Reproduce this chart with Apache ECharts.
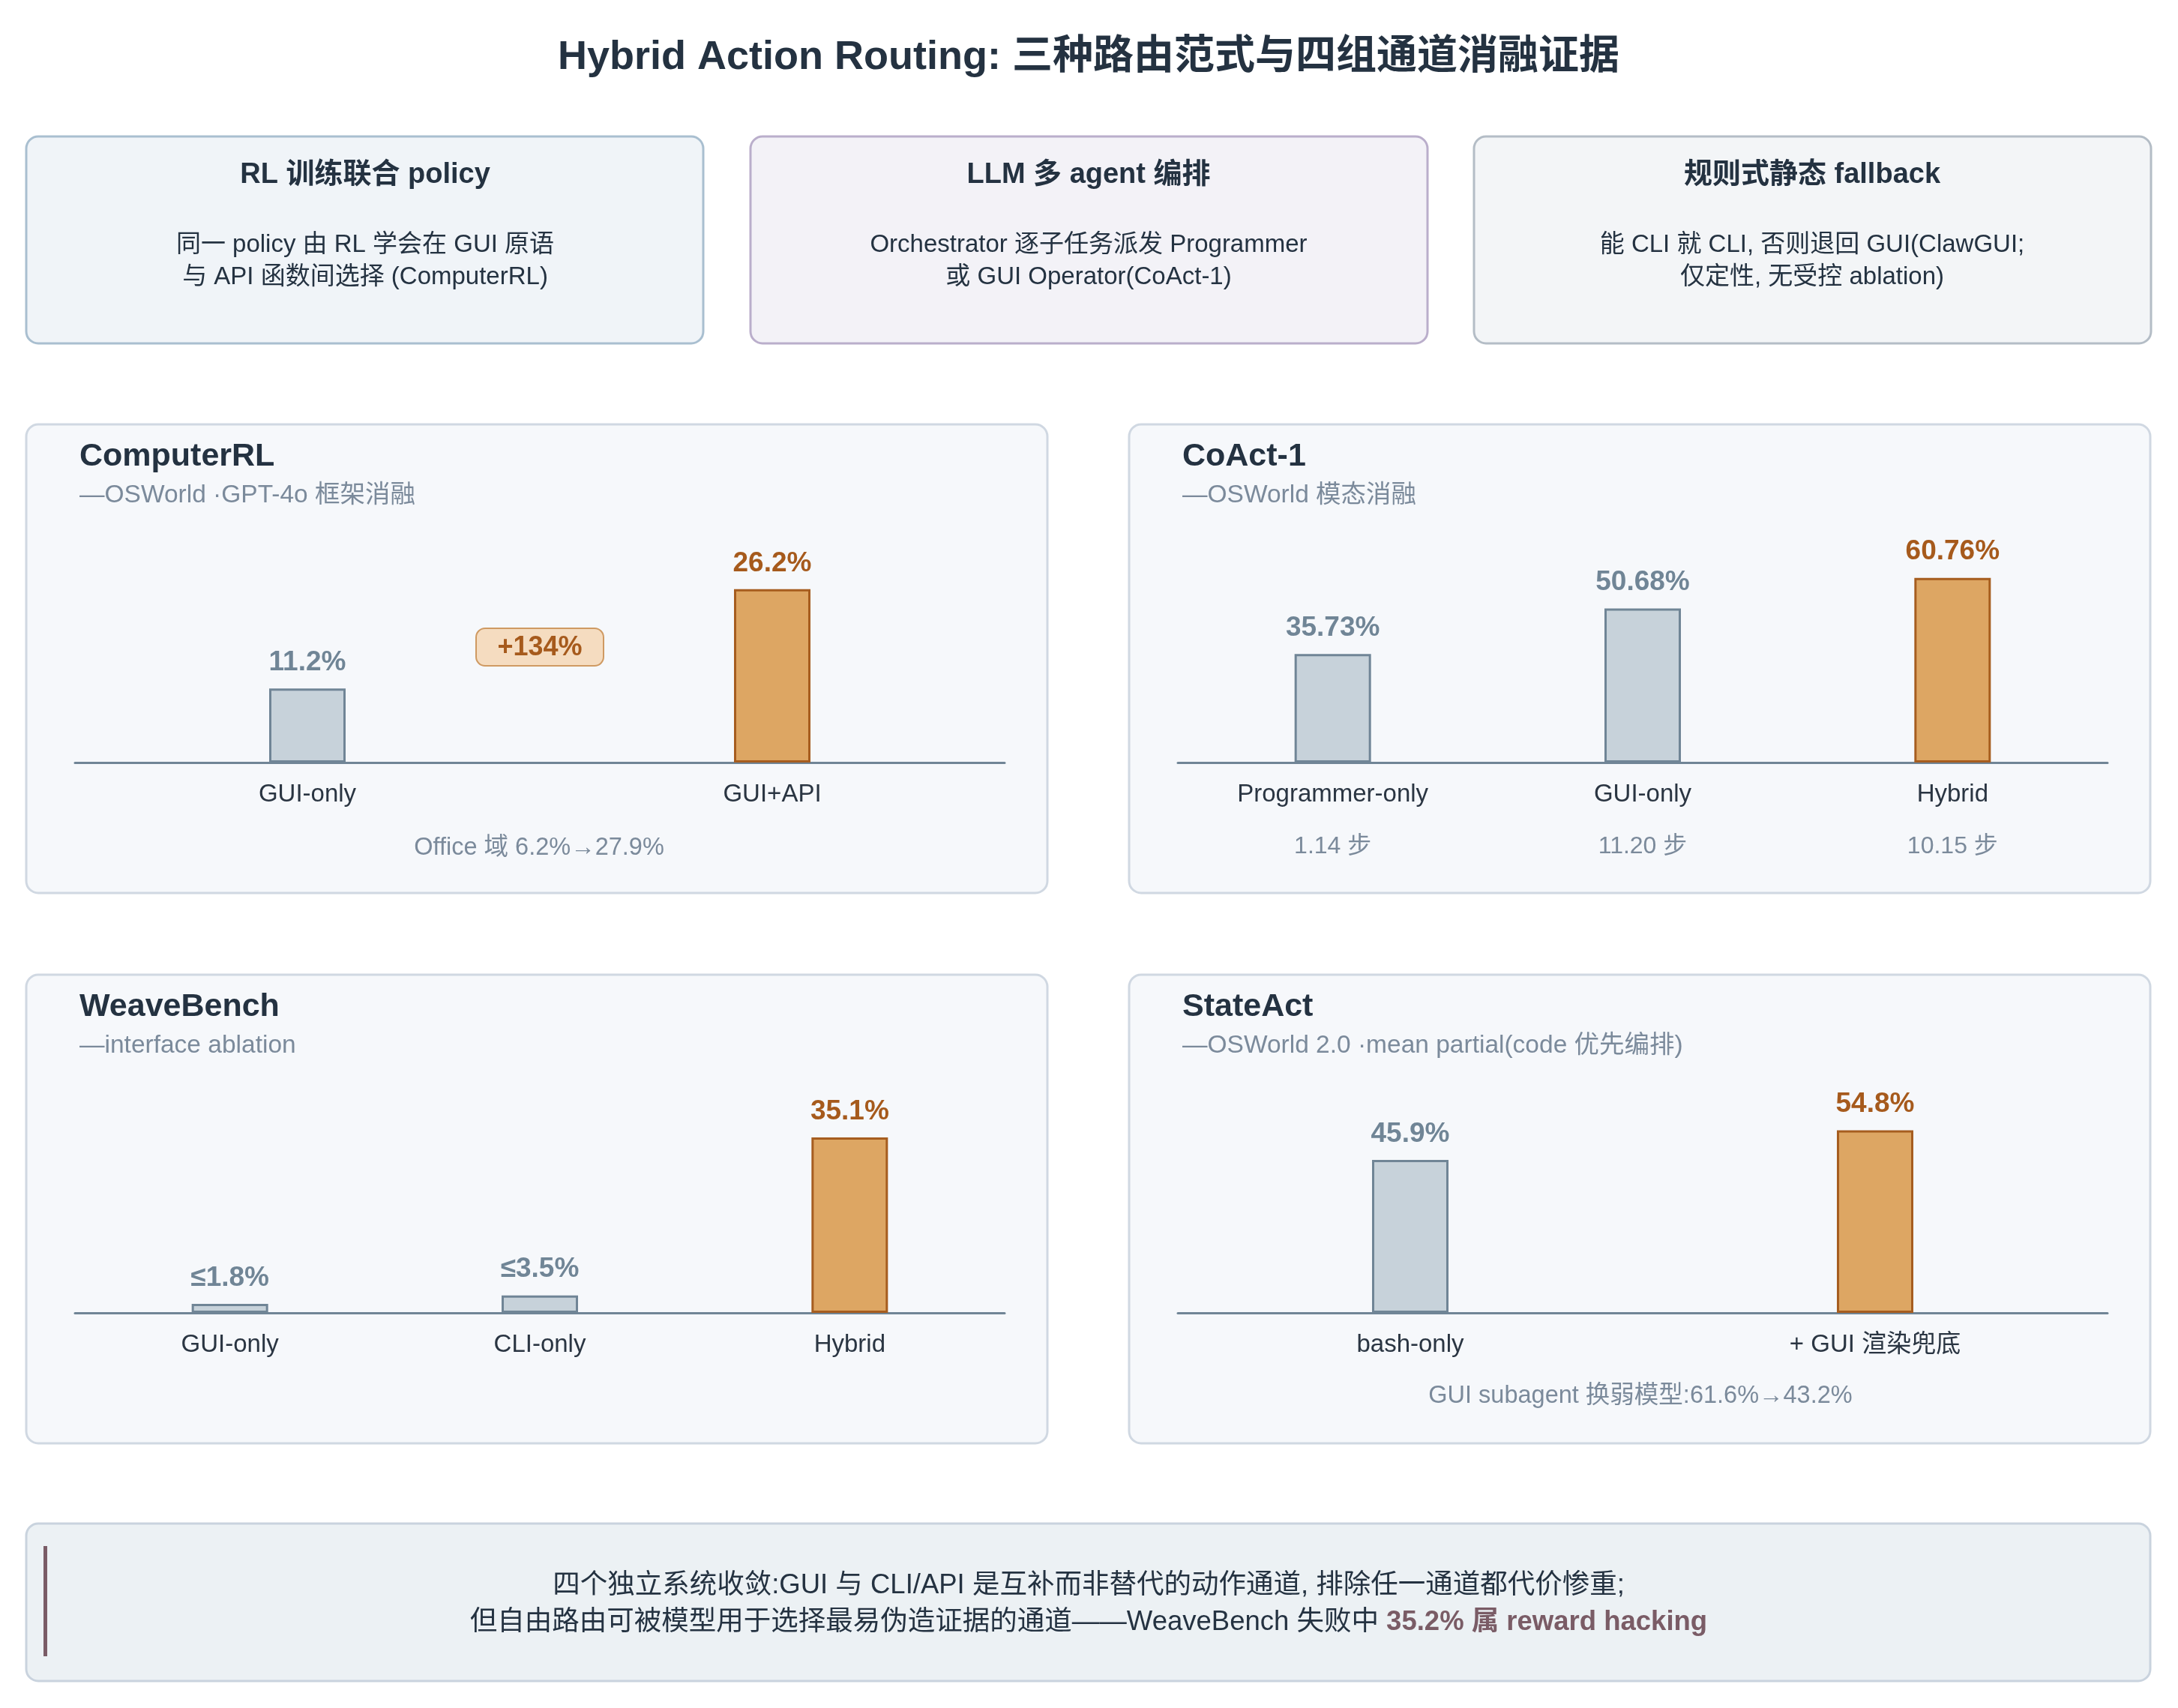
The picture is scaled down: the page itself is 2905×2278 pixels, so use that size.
<!DOCTYPE html>
<html>
<head>
<meta charset="utf-8">
<title>Hybrid Action Routing</title>
<script src="https://cdn.jsdelivr.net/npm/echarts@6/dist/echarts.min.js"></script>
<style>
html, body { margin: 0; padding: 0; background: #ffffff; }
#main { width: 2905px; height: 2278px; }
</style>
</head>
<body>
<div id="main"></div>
<script>
// ---------------- 数据 ----------------
var computerCats = ['GUI-only', 'GUI+API'];
var computerVals = [11.2, 26.2];

var coactCats = ['Programmer-only', 'GUI-only', 'Hybrid'];
var coactVals = [35.73, 50.68, 60.76];
var coactSteps = [1.14, 11.20, 10.15];

var weaveCats = ['GUI-only', 'CLI-only', 'Hybrid'];
var weaveVals = [1.8, 3.5, 35.1];
var weavePrefix = ['≤', '≤', ''];

var stateCats = ['bash-only', '+ GUI 渲染兜底'];
var stateVals = [45.9, 54.8];

// 每个面板 y 轴上限
var yMaxes = [34, 74, 45, 67.5];

// ---------------- 样式 ----------------
var FONT = '"Liberation Sans", "Noto Sans CJK SC", sans-serif';
var DARK = '#243241';
var GRAY_TXT = '#7b8a9b';
var GRAY_FILL = '#c7d2da';
var GRAY_LINE = '#708596';
var ORANGE_FILL = '#dda663';
var ORANGE_LINE = '#a65d1f';
var ORANGE_TXT = '#a65a1c';
var MAUVE = '#7a5c66';

var myChart = echarts.init(document.getElementById('main'), null, { renderer: 'canvas' });

// 圆角框
function box(x, y, w, h, fill, stroke) {
    return {
        type: 'rect', z: -10,
        shape: { x: x, y: y, width: w, height: h, r: 16 },
        style: { fill: fill, stroke: stroke, lineWidth: 3 }
    };
}

// 文字
function txt(x, y, s, size, color, bold, align) {
    return {
        type: 'text', z: 8, x: x, y: y,
        style: {
            text: s, fill: color, fontSize: size, fontFamily: FONT,
            fontWeight: bold ? 'bold' : 'normal',
            align: align || 'center', verticalAlign: 'middle'
        }
    };
}

// 柱子数据, 最后一根高亮
function barData(vals) {
    return vals.map(function (v, i) {
        var hi = i === vals.length - 1;
        return {
            value: v,
            itemStyle: { color: hi ? ORANGE_FILL : GRAY_FILL, borderColor: hi ? ORANGE_LINE : GRAY_LINE },
            label: { color: hi ? ORANGE_TXT : GRAY_LINE }
        };
    });
}

function barSeries(idx, vals, prefix) {
    return {
        type: 'bar',
        xAxisIndex: idx, yAxisIndex: idx,
        barWidth: 102,
        itemStyle: { borderWidth: 3 },
        label: {
            show: true, position: 'top', distance: 16,
            fontSize: 37, fontWeight: 'bold', fontFamily: FONT,
            formatter: function (p) {
                return (prefix ? prefix[p.dataIndex] : '') + p.value + '%';
            }
        },
        data: barData(vals)
    };
}

function catAxis(idx, cats) {
    return {
        type: 'category', gridIndex: idx, data: cats,
        axisLine: { show: true, lineStyle: { color: GRAY_LINE, width: 3 } },
        axisTick: { show: false },
        axisLabel: { margin: 26, fontSize: 33, color: '#2a3542', fontFamily: FONT }
    };
}

function valAxis(idx) {
    return { type: 'value', gridIndex: idx, min: 0, max: yMaxes[idx], show: false, splitLine: { show: false } };
}

var gridL = [100, 1571, 100, 1571];
var gridT = [717, 717, 1451, 1451];

// 增幅
var gain = Math.round((computerVals[1] / computerVals[0] - 1) * 100);

var xAxes = [
    catAxis(0, computerCats),
    catAxis(1, coactCats),
    catAxis(2, weaveCats),
    catAxis(3, stateCats)
];
// CoAct-1 步数行
xAxes.push({
    type: 'category', gridIndex: 1, position: 'bottom',
    data: coactSteps.map(function (s) { return s.toFixed(2) + ' 步'; }),
    axisLine: { show: false }, axisTick: { show: false },
    axisLabel: { margin: 96, fontSize: 32, color: GRAY_TXT, fontFamily: FONT }
});

var elements = [
    // 三个范式框
    box(35, 182, 903, 276, '#f0f4f8', '#a9bfd0'),
    box(1001, 182, 903, 276, '#f3f2f7', '#baaecb'),
    box(1966, 182, 903, 276, '#f3f5f7', '#b4bdc6'),
    // 四个面板
    box(35, 566, 1362, 625, '#f6f8fb', '#d0d8e2'),
    box(1506, 566, 1362, 625, '#f6f8fb', '#d0d8e2'),
    box(35, 1300, 1362, 625, '#f6f8fb', '#d0d8e2'),
    box(1506, 1300, 1362, 625, '#f6f8fb', '#d0d8e2'),
    // 结论框
    box(35, 2032, 2833, 210, '#ecf1f4', '#c9d3de'),
    { type: 'rect', z: -5, shape: { x: 58, y: 2062, width: 5, height: 147 }, style: { fill: MAUVE } },

    txt(1452, 77, 'Hybrid Action Routing: 三种路由范式与四组通道消融证据', 54, DARK, true),

    txt(487, 234, 'RL 训练联合 policy', 38, DARK, true),
    txt(487, 327, '同一 policy 由 RL 学会在 GUI 原语', 33, DARK),
    txt(487, 370, '与 API 函数间选择 (ComputerRL)', 33, DARK),
    txt(1452, 234, 'LLM 多 agent 编排', 38, DARK, true),
    txt(1452, 327, 'Orchestrator 逐子任务派发 Programmer', 33, DARK),
    txt(1452, 370, '或 GUI Operator(CoAct-1)', 33, DARK),
    txt(2417, 234, '规则式静态 fallback', 38, DARK, true),
    txt(2417, 327, '能 CLI 就 CLI, 否则退回 GUI(ClawGUI;', 33, DARK),
    txt(2417, 370, '仅定性, 无受控 ablation)', 33, DARK),

    txt(106, 609, 'ComputerRL', 43, DARK, true, 'left'),
    txt(106, 661, '—OSWorld ·GPT-4o 框架消融', 33.5, GRAY_TXT, false, 'left'),
    txt(1577, 609, 'CoAct-1', 43, DARK, true, 'left'),
    txt(1577, 661, '—OSWorld 模态消融', 33.5, GRAY_TXT, false, 'left'),
    txt(106, 1343, 'WeaveBench', 43, DARK, true, 'left'),
    txt(106, 1395, '—interface ablation', 33.5, GRAY_TXT, false, 'left'),
    txt(1577, 1343, 'StateAct', 43, DARK, true, 'left'),
    txt(1577, 1395, '—OSWorld 2.0 ·mean partial(code 优先编排)', 33.5, GRAY_TXT, false, 'left'),

    txt(719, 1131, 'Office 域 6.2%→27.9%', 32.5, GRAY_TXT),
    txt(2188, 1862, 'GUI subagent 换弱模型:61.6%→43.2%', 32.5, GRAY_TXT),

    // +134% 徽标
    {
        type: 'rect', z: 6,
        shape: { x: 635, y: 838, width: 170, height: 50, r: 12 },
        style: { fill: '#f5dcc0', stroke: '#cf9a62', lineWidth: 2 }
    },
    txt(720, 864, '+' + gain + '%', 36, ORANGE_TXT, true),

    // 结论文字
    txt(1452, 2115, '四个独立系统收敛:GUI 与 CLI/API 是互补而非替代的动作通道, 排除任一通道都代价惨重;', 36.5, DARK),
    {
        type: 'text', z: 8, x: 1452, y: 2164,
        style: {
            text: '{n|但自由路由可被模型用于选择最易伪造证据的通道——WeaveBench 失败中 }{h|35.2% 属 reward hacking}',
            align: 'center', verticalAlign: 'middle',
            rich: {
                n: { fontSize: 36.5, fill: DARK, color: DARK, fontFamily: FONT },
                h: { fontSize: 36.5, fill: MAUVE, color: MAUVE, fontWeight: 'bold', fontFamily: FONT }
            }
        }
    }
];

var option = {
    backgroundColor: '#ffffff',
    animation: false,
    grid: [0, 1, 2, 3].map(function (i) {
        return { left: gridL[i], top: gridT[i], width: 1240, height: 300 };
    }),
    xAxis: xAxes,
    yAxis: [valAxis(0), valAxis(1), valAxis(2), valAxis(3)],
    series: [
        barSeries(0, computerVals),
        barSeries(1, coactVals),
        barSeries(2, weaveVals, weavePrefix),
        barSeries(3, stateVals)
    ],
    graphic: { elements: elements }
};

myChart.setOption(option);
</script>
</body>
</html>
